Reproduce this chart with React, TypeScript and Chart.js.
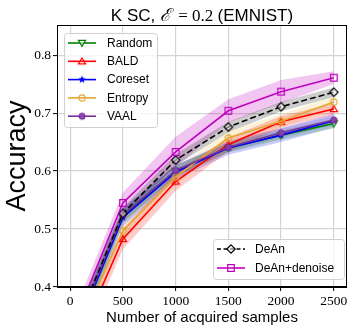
import { useEffect, useRef } from 'react';
import { Chart, registerables } from 'chart.js';

Chart.register(...registerables);

// ---------- data ----------
const samples = [0, 500, 1000, 1500, 2000, 2500];
const xTickValues = [0, 500, 1000, 1500, 2000, 2500];
const xTickLabels = ['0', '500', '1000', '1500', '2000', '2500'];
const yTickValues = [0.4, 0.5, 0.6, 0.7, 0.8];
const yTickLabels = ['0.4', '0.5', '0.6', '0.7', '0.8'];

const randomAcc = [0.3, 0.522, 0.6, 0.64, 0.662, 0.682];
const randomStd = [0.02, 0.012, 0.01, 0.008, 0.008, 0.008];
const baldAcc = [0.275, 0.483, 0.582, 0.646, 0.685, 0.707];
const baldStd = [0.02, 0.018, 0.016, 0.012, 0.01, 0.01];
const coresetAcc = [0.3, 0.52, 0.598, 0.64, 0.662, 0.687];
const coresetStd = [0.02, 0.015, 0.012, 0.012, 0.012, 0.012];
const entropyAcc = [0.295, 0.497, 0.59, 0.657, 0.686, 0.719];
const entropyStd = [0.02, 0.018, 0.014, 0.012, 0.012, 0.01];
const vaalAcc = [0.305, 0.525, 0.601, 0.641, 0.666, 0.688];
const vaalStd = [0.02, 0.012, 0.01, 0.008, 0.008, 0.008];
const deanAcc = [0.31, 0.527, 0.619, 0.676, 0.711, 0.736];
const deanStd = [0.02, 0.01, 0.01, 0.009, 0.008, 0.008];
const denoiseAcc = [0.322, 0.545, 0.633, 0.704, 0.737, 0.761];
const denoiseStd = [0.02, 0.018, 0.026, 0.02, 0.02, 0.011];

const titleParts = ['K SC, ', 'ℰ', ' = 0.2 ', '(EMNIST)'];
const xAxisTitle = 'Number of acquired samples';
const yAxisTitle = 'Accuracy';

type Kind = 'tdown' | 'tup' | 'star' | 'circle' | 'hatch' | 'diamond' | 'square';

interface Series {
  label: string;
  acc: number[];
  std: number[];
  color: string;
  band: string;
  kind: Kind;
  dash?: number[];
  legend: 1 | 2;
}

const series: Series[] = [
  { label: 'Random', acc: randomAcc, std: randomStd, color: '#008000', band: 'rgba(0,128,0,0.2)', kind: 'tdown', legend: 1 },
  { label: 'BALD', acc: baldAcc, std: baldStd, color: '#ff0000', band: 'rgba(255,0,0,0.2)', kind: 'tup', legend: 1 },
  { label: 'Coreset', acc: coresetAcc, std: coresetStd, color: '#0000ff', band: 'rgba(0,0,255,0.2)', kind: 'star', legend: 1 },
  { label: 'Entropy', acc: entropyAcc, std: entropyStd, color: '#e3a631', band: 'rgba(240,190,80,0.22)', kind: 'circle', legend: 1 },
  { label: 'VAAL', acc: vaalAcc, std: vaalStd, color: '#7a2f9e', band: 'rgba(122,47,158,0.2)', kind: 'hatch', legend: 1 },
  { label: 'DeAn', acc: deanAcc, std: deanStd, color: '#000000', band: 'rgba(0,0,0,0.2)', kind: 'diamond', dash: [6, 3], legend: 2 },
  { label: 'DeAn+denoise', acc: denoiseAcc, std: denoiseStd, color: '#c000c0', band: 'rgba(192,0,192,0.22)', kind: 'square', legend: 2 },
];

function makeMarker(kind: Kind, color: string): HTMLCanvasElement {
  const s = 12;
  const c = document.createElement('canvas');
  c.width = s;
  c.height = s;
  const ctx = c.getContext('2d')!;
  const m = s / 2;
  ctx.strokeStyle = color;
  ctx.fillStyle = color;
  ctx.lineWidth = 1.2;
  ctx.beginPath();
  if (kind === 'tdown') {
    ctx.moveTo(m - 3.6, m - 2.6);
    ctx.lineTo(m + 3.6, m - 2.6);
    ctx.lineTo(m, m + 3.4);
    ctx.closePath();
    ctx.fillStyle = 'rgba(255,255,255,0.6)';
    ctx.fill();
    ctx.stroke();
  } else if (kind === 'tup') {
    ctx.moveTo(m - 3.6, m + 2.6);
    ctx.lineTo(m + 3.6, m + 2.6);
    ctx.lineTo(m, m - 3.4);
    ctx.closePath();
    ctx.stroke();
  } else if (kind === 'star') {
    const R = 4;
    const r = 1.8;
    for (let i = 0; i < 10; i++) {
      const a = -Math.PI / 2 + (i * Math.PI) / 5;
      const rr = i % 2 === 0 ? R : r;
      const x = m + rr * Math.cos(a);
      const y = m + rr * Math.sin(a);
      if (i === 0) ctx.moveTo(x, y);
      else ctx.lineTo(x, y);
    }
    ctx.closePath();
    ctx.fill();
  } else if (kind === 'circle') {
    ctx.arc(m, m, 3.2, 0, Math.PI * 2);
    ctx.stroke();
  } else if (kind === 'hatch') {
    ctx.arc(m, m, 2.9, 0, Math.PI * 2);
    ctx.fillStyle = 'rgba(150,80,180,0.9)';
    ctx.fill();
    ctx.stroke();
    ctx.beginPath();
    ctx.lineWidth = 0.7;
    ctx.moveTo(m - 2, m - 2);
    ctx.lineTo(m + 2, m + 2);
    ctx.moveTo(m + 2, m - 2);
    ctx.lineTo(m - 2, m + 2);
    ctx.stroke();
  } else if (kind === 'diamond') {
    ctx.moveTo(m, m - 4.2);
    ctx.lineTo(m + 4.2, m);
    ctx.lineTo(m, m + 4.2);
    ctx.lineTo(m - 4.2, m);
    ctx.closePath();
    ctx.fillStyle = 'rgba(255,255,255,0.5)';
    ctx.fill();
    ctx.stroke();
  } else if (kind === 'square') {
    ctx.rect(m - 3.3, m - 3.3, 6.6, 6.6);
    ctx.stroke();
  }
  return c;
}

export default function App() {
  const ref = useRef<HTMLCanvasElement>(null);

  useEffect(() => {
    document.body.style.margin = '0';
    const canvas = ref.current!;
    const markers = series.map((s) => makeMarker(s.kind, s.color));

    const datasets: any[] = [];
    series.forEach((s, i) => {
      const upper = s.acc.map((v, j) => ({ x: samples[j], y: v + s.std[j] }));
      const lower = s.acc.map((v, j) => ({ x: samples[j], y: v - s.std[j] }));
      const idx = datasets.length;
      datasets.push({
        data: upper,
        borderWidth: 0,
        pointRadius: 0,
        backgroundColor: s.band,
        fill: { target: idx + 1 },
        order: 20 + i,
      });
      datasets.push({
        data: lower,
        borderWidth: 0,
        pointRadius: 0,
        fill: false,
        order: 20 + i,
      });
    });
    series.forEach((s, i) => {
      datasets.push({
        label: s.label,
        data: s.acc.map((v, j) => ({ x: samples[j], y: v })),
        borderColor: s.color,
        borderWidth: 1.6,
        borderDash: s.dash || [],
        pointStyle: markers[i],
        pointRadius: 5,
        fill: false,
        order: 10 - i,
      });
    });

    const deco = {
      id: 'deco',
      afterDraw(chart: any) {
        const ctx = chart.ctx as CanvasRenderingContext2D;
        const a = chart.chartArea;
        ctx.save();
        // spines
        ctx.strokeStyle = '#000';
        ctx.lineWidth = 1;
        ctx.strokeRect(a.left + 0.5, a.top + 0.5, a.right - a.left - 1, a.bottom - a.top - 1);

        // legends
        const drawLegend = (which: number, bx: number, by: number, bw: number, bh: number, lx: number, tx: number, y0: number, dy: number) => {
          ctx.beginPath();
          ctx.roundRect(bx + 0.5, by + 0.5, bw, bh, 3);
          ctx.fillStyle = 'rgba(255,255,255,0.8)';
          ctx.fill();
          ctx.strokeStyle = '#d0d0d0';
          ctx.lineWidth = 1;
          ctx.stroke();
          let k = 0;
          series.forEach((s, i) => {
            if (s.legend !== which) return;
            const y = y0 + k * dy;
            ctx.beginPath();
            ctx.strokeStyle = s.color;
            ctx.lineWidth = 1.6;
            ctx.setLineDash(s.dash ? [4, 2.5] : []);
            ctx.moveTo(lx, y);
            ctx.lineTo(lx + 28, y);
            ctx.stroke();
            ctx.setLineDash([]);
            ctx.drawImage(markers[i], lx + 14 - 6, y - 6);
            ctx.fillStyle = '#000';
            ctx.font = '12px "Liberation Sans"';
            ctx.textBaseline = 'middle';
            ctx.textAlign = 'left';
            ctx.fillText(s.label, tx, y + 0.5);
            k++;
          });
        };
        drawLegend(1, 64, 33, 93, 94, 68, 107, 43, 18.3);
        drawLegend(2, 213, 239, 131, 40, 217, 255, 249, 19);

        // title
        ctx.fillStyle = '#000';
        ctx.textBaseline = 'alphabetic';
        ctx.textAlign = 'left';
        const fonts = ['17px "Liberation Sans"', 'italic 18px "DejaVu Serif"', '17px "Liberation Serif"', '17px "Liberation Sans"'];
        const gaps = [0, 3, 0, 0];
        let total = 0;
        const widths = titleParts.map((t, i) => {
          ctx.font = fonts[i];
          const w = ctx.measureText(t).width + gaps[i];
          total += w;
          return w;
        });
        let x = (a.left + a.right) / 2 - total / 2;
        titleParts.forEach((t, i) => {
          ctx.font = fonts[i];
          ctx.fillText(t, x, 21);
          x += widths[i];
        });

        // axis titles
        ctx.font = '15px "Liberation Sans"';
        ctx.textAlign = 'center';
        ctx.fillText(xAxisTitle, (a.left + a.right) / 2, 322);
        ctx.save();
        ctx.translate(25, (a.top + a.bottom) / 2);
        ctx.rotate(-Math.PI / 2);
        ctx.font = '27px "Liberation Sans"';
        ctx.fillText(yAxisTitle, 0, 0);
        ctx.restore();
        ctx.restore();
      },
    };

    const chart = new Chart(canvas, {
      type: 'line',
      data: { datasets },
      plugins: [deco],
      options: {
        animation: false,
        responsive: false,
        layout: { padding: { left: 0, right: 9, top: 25, bottom: 0 } },
        plugins: { legend: { display: false }, tooltip: { enabled: false }, title: { display: false } },
        scales: {
          x: {
            type: 'linear',
            min: -125,
            max: 2625,
            afterBuildTicks: (sc: any) => {
              sc.ticks = xTickValues.map((v) => ({ value: v }));
            },
            afterFit: (sc: any) => {
              sc.height = 45;
            },
            ticks: {
              callback: (_v: any, i: number) => xTickLabels[i],
              font: { family: '"Liberation Serif"', size: 13.5 },
              color: '#000',
              padding: 2,
              maxRotation: 0,
            },
            grid: { color: '#d4d4d4', lineWidth: 1.2, tickLength: 4, tickColor: '#000', tickWidth: 1 },
            border: { display: true, color: '#000', width: 1 },
          },
          y: {
            type: 'linear',
            min: 0.4,
            max: 0.852,
            afterBuildTicks: (sc: any) => {
              sc.ticks = yTickValues.map((v) => ({ value: v }));
            },
            afterFit: (sc: any) => {
              sc.width = 57;
            },
            ticks: {
              callback: (_v: any, i: number) => yTickLabels[i],
              font: { family: '"Liberation Serif"', size: 13.5 },
              color: '#000',
              padding: 2,
            },
            grid: { color: '#d4d4d4', lineWidth: 1.2, tickLength: 4, tickColor: '#000', tickWidth: 1 },
            border: { display: true, color: '#000', width: 1 },
          },
        },
      },
    });
    return () => chart.destroy();
  }, []);

  return (
    <div style={{ width: 356, height: 332, position: 'relative' }}>
      <canvas ref={ref} width={356} height={332} style={{ display: 'block' }} />
    </div>
  );
}
